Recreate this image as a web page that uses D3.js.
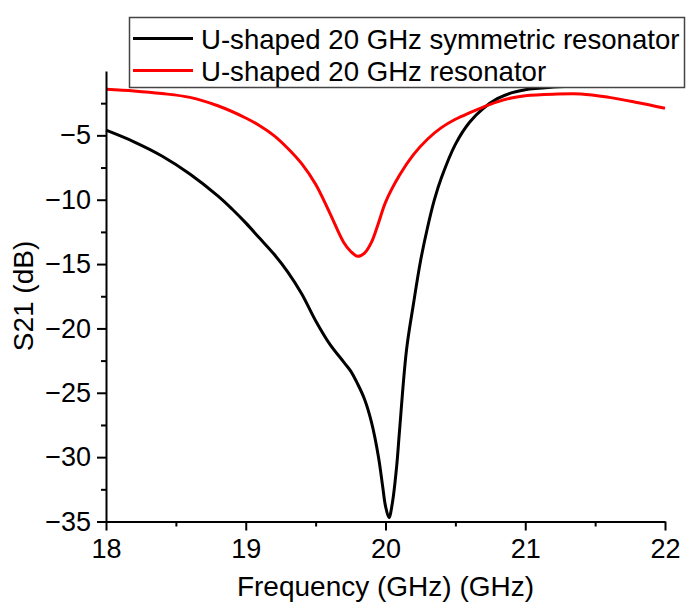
<!DOCTYPE html>
<html>
<head>
<meta charset="utf-8">
<script src="https://cdn.jsdelivr.net/npm/d3@7"></script>
<style>
  body { margin: 0; background: #fff; }
  svg text { font-family: "Liberation Sans", Arial, sans-serif; fill: #000; }
  .axis path, .axis line { stroke: #000; stroke-width: 2; }
</style>
</head>
<body>
<script>
// S21 of two U-shaped 20 GHz resonators

const w = 686;
const h = 610;

// frequency (GHz) and S21 (dB)
const freqSym = [18.0, 18.2, 18.4, 18.6, 18.8, 18.9, 19.0, 19.1, 19.2, 19.3, 19.4, 19.5, 19.6, 19.7, 19.75, 19.8, 19.85, 19.9, 19.95, 19.98, 20.0, 20.025, 20.05, 20.08, 20.1, 20.15, 20.2, 20.25, 20.3, 20.35, 20.4, 20.5, 20.6, 20.7, 20.8, 20.9, 21.0, 21.2, 21.4, 21.6, 21.8, 22.0];
const s21Sym = [-4.6, -5.5, -6.6, -8.0, -9.7, -10.7, -11.8, -13.0, -14.2, -15.6, -17.3, -19.4, -21.2, -22.6, -23.3, -24.3, -25.5, -27.3, -30.0, -32.3, -33.8, -34.7, -33.5, -30.7, -28.0, -21.7, -18.1, -14.8, -12.2, -10.0, -8.3, -5.7, -4.0, -2.9, -2.15, -1.7, -1.45, -1.25, -1.15, -1.1, -1.05, -1.0];

const freqRes = [18.0, 18.2, 18.4, 18.6, 18.8, 19.0, 19.1, 19.2, 19.3, 19.4, 19.5, 19.6, 19.7, 19.75, 19.8, 19.85, 19.9, 19.95, 20.0, 20.1, 20.2, 20.3, 20.4, 20.5, 20.6, 20.7, 20.8, 20.9, 21.0, 21.2, 21.4, 21.6, 21.8, 22.0];
const s21Res = [-1.42, -1.55, -1.75, -2.05, -2.7, -3.65, -4.25, -5.0, -6.0, -7.2, -8.8, -11.0, -13.3, -14.0, -14.4, -14.15, -13.3, -11.8, -10.2, -8.1, -6.5, -5.3, -4.4, -3.75, -3.25, -2.8, -2.4, -2.1, -1.92, -1.8, -1.78, -2.05, -2.45, -2.9];

const seriesNames = ["U-shaped 20 GHz symmetric resonator", "U-shaped 20 GHz resonator"];
const seriesColors = ["#000000", "#ff0000"];

const xTicks = [18, 19, 20, 21, 22];
const yTicks = [-35, -30, -25, -20, -15, -10, -5];

// scales
const xScale = d3.scaleLinear().domain([18, 22]).range([106, 665]);
const yScale = d3.scaleLinear().domain([-35, 0]).range([521.5, 71]);

const svg = d3.select("body").append("svg")
  .attr("width", w)
  .attr("height", h);

const line = d3.line()
  .x(d => xScale(d[0]))
  .y(d => yScale(d[1]))
  .curve(d3.curveCatmullRom.alpha(0.5));

const series = [
  d3.zip(freqSym, s21Sym),
  d3.zip(freqRes, s21Res)
];

// curves
series.forEach((s, i) => {
  svg.append("path")
    .datum(s)
    .attr("d", line)
    .attr("fill", "none")
    .attr("stroke", seriesColors[i])
    .attr("stroke-width", 3);
});

// minor ticks
svg.append("g")
  .attr("class", "axis")
  .attr("transform", "translate(0,521.5)")
  .call(d3.axisBottom(xScale).tickValues(d3.range(18.5, 22, 1)).tickSize(5).tickFormat(""))
  .call(g => g.select(".domain").remove());
svg.append("g")
  .attr("class", "axis")
  .attr("transform", "translate(106,0)")
  .call(d3.axisLeft(yScale).tickValues(d3.range(-32.5, 0, 5)).tickSize(5).tickFormat(""))
  .call(g => g.select(".domain").remove());

// bottom axis
svg.append("g")
  .attr("class", "axis")
  .attr("transform", "translate(0,521.5)")
  .call(d3.axisBottom(xScale).tickValues(xTicks).tickFormat(d3.format("d")).tickSize(9).tickSizeOuter(0).tickPadding(8))
  .call(g => g.selectAll("text").attr("font-size", 27).attr("dy", "0.71em"));

// left axis
svg.append("g")
  .attr("class", "axis")
  .attr("transform", "translate(106,0)")
  .call(d3.axisLeft(yScale).tickValues(yTicks).tickSize(9).tickSizeOuter(0).tickPadding(6))
  .call(g => g.selectAll("text").attr("font-size", 27));

// axis titles
svg.append("text")
  .attr("x", xScale(20))
  .attr("y", 596)
  .attr("text-anchor", "middle")
  .attr("font-size", 28)
  .text("Frequency (GHz) (GHz)");

svg.append("text")
  .attr("transform", "rotate(-90)")
  .attr("x", -296)
  .attr("y", 33)
  .attr("text-anchor", "middle")
  .attr("font-size", 28)
  .text("S21 (dB)");

// legend
const legend = svg.append("g");
legend.append("rect")
  .attr("x", 129.5)
  .attr("y", 17.5)
  .attr("width", 555)
  .attr("height", 70)
  .attr("fill", "#fff")
  .attr("stroke", "#444")
  .attr("stroke-width", 1.5);

seriesNames.forEach((name, i) => {
  const y = 38.5 + i * 32;
  legend.append("line")
    .attr("x1", 133).attr("x2", 193)
    .attr("y1", y).attr("y2", y)
    .attr("stroke", seriesColors[i])
    .attr("stroke-width", 3);
  legend.append("text")
    .attr("x", 201)
    .attr("y", y + 10)
    .attr("font-size", 27.6)
    .text(name);
});
</script>
</body>
</html>
